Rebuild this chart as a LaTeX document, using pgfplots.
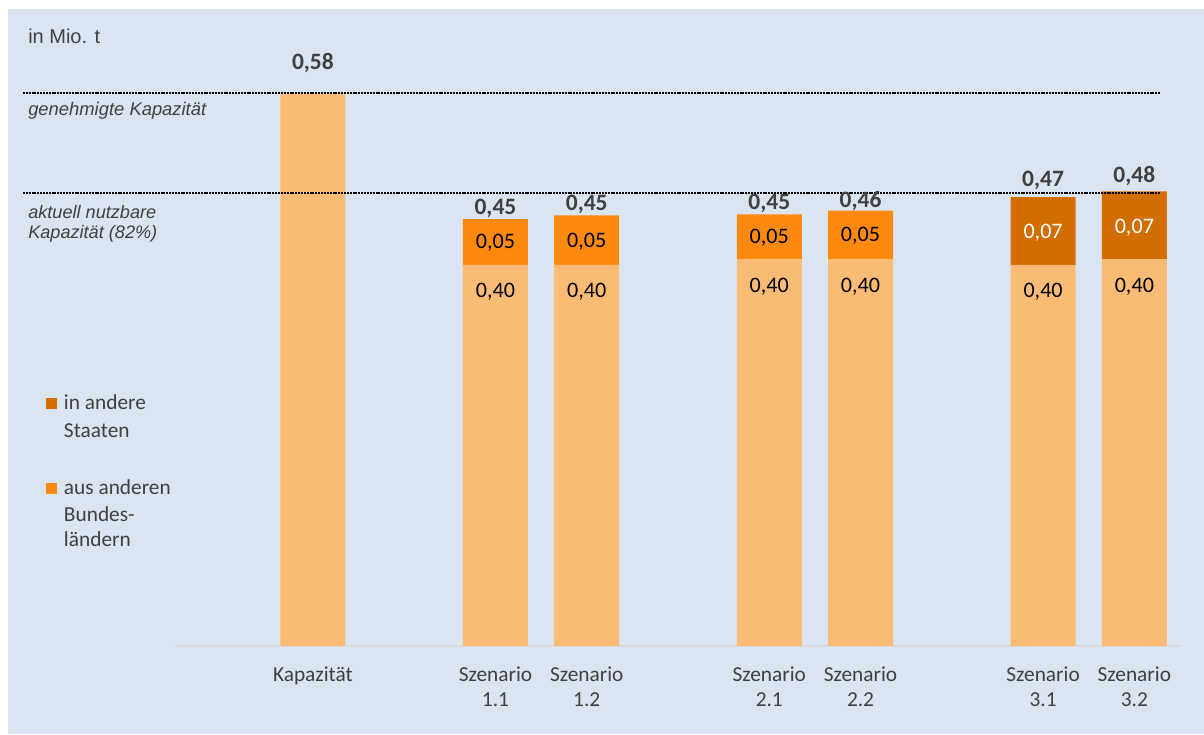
\documentclass[border=0pt]{standalone}
\usepackage{fontspec}
\setmainfont{Carlito}
\newfontfamily\arial{Liberation Sans}
\usepackage{pgfplots}
\pgfplotsset{compat=1.18}
\definecolor{bg}{HTML}{DBE5F1}
\definecolor{lightor}{HTML}{FABC75}
\definecolor{midor}{HTML}{FD8A0E}
\definecolor{darkor}{HTML}{D26E00}
\definecolor{txt}{HTML}{404040}
\begin{document}
\begin{tikzpicture}
\fill[white] (-132pt,-66.75pt) rectangle (771pt,484.5pt);
\fill[bg] (-126pt,-66pt) rectangle (771pt,477.75pt);
\begin{axis}[
  at={(0pt,0pt)}, anchor=south west,
  scale only axis, width=753pt, height=464.5pt,
  xmin=-1.5, xmax=9.5, ymin=0, ymax=0.65,
  ybar stacked, bar width=48.75pt,
  axis y line=none, axis x line*=bottom,
  x axis line style={-, draw=black!15, line width=1.1pt},
  ytick=\empty,
  xtick={0,2,3,5,6,8,9},
  xticklabels={{Kapazität},{Szenario\\1.1},{Szenario\\1.2},{Szenario\\2.1},{Szenario\\2.2},{Szenario\\3.1},{Szenario\\3.2}},
  xticklabel style={align=center, font=\fontsize{16}{19.2}\selectfont, text=txt, inner sep=0pt, anchor=north, yshift=-15.3pt},
  major tick length=0pt, xtick style={draw=none},
  clip=false,
]
% base segment
\addplot[fill=lightor, draw=none] coordinates {(0,0.58) (2,0.400) (3,0.400) (5,0.406) (6,0.406) (8,0.400) (9,0.406)};
% aus anderen Bundeslaendern
\addplot[fill=midor, draw=none] coordinates {(0,0) (2,0.048) (3,0.052) (5,0.047) (6,0.051) (8,0) (9,0)};
% in andere Staaten
\addplot[fill=darkor, draw=none] coordinates {(0,0) (2,0) (3,0) (5,0) (6,0) (8,0.071) (9,0.071)};

% reference lines
\coordinate (g1) at (axis cs:-3.177,0.58);
\coordinate (g2) at (axis cs:9.29,0.58);
\coordinate (n1) at (axis cs:-3.177,0.4756);
\coordinate (n2) at (axis cs:9.29,0.4756);
% inner label positions
\coordinate (b2) at (axis cs:2,0.3654);
\coordinate (b3) at (axis cs:3,0.3654);
\coordinate (b5) at (axis cs:5,0.3714);
\coordinate (b6) at (axis cs:6,0.3714);
\coordinate (b8) at (axis cs:8,0.3654);
\coordinate (b9) at (axis cs:9,0.3714);
\coordinate (m2) at (axis cs:2,0.4167);
\coordinate (m3) at (axis cs:3,0.4187);
\coordinate (m5) at (axis cs:5,0.4222);
\coordinate (m6) at (axis cs:6,0.4242);
\coordinate (d8) at (axis cs:8,0.4273);
\coordinate (d9) at (axis cs:9,0.4333);
% totals
\coordinate (t0) at (axis cs:0,0.6050);
\coordinate (t2) at (axis cs:2,0.4530);
\coordinate (t3) at (axis cs:3,0.4568);
\coordinate (t5) at (axis cs:5,0.4586);
\coordinate (t6) at (axis cs:6,0.4597);
\coordinate (t8) at (axis cs:8,0.4827);
\coordinate (t9) at (axis cs:9,0.4866);
\end{axis}
\draw[black, line width=1.5pt, dash pattern=on 1.5pt off 0.65pt] (g1) -- (g2);
\draw[black, line width=1.5pt, dash pattern=on 1.5pt off 0.65pt] (n1) -- (n2);
\begin{scope}[every node/.style={font=\fontsize{16.6}{19.2}\selectfont, text=black, anchor=base, inner sep=0pt}]
\node at (b2) {0,40};
\node at (b3) {0,40};
\node at (b5) {0,40};
\node at (b6) {0,40};
\node at (b8) {0,40};
\node at (b9) {0,40};
\node at (m2) {0,05};
\node at (m3) {0,05};
\node at (m5) {0,05};
\node at (m6) {0,05};
\node[text=white] at (d8) {0,07};
\node[text=white] at (d9) {0,07};
\end{scope}
\begin{scope}[every node/.style={font=\fontsize{17.6}{20}\selectfont\bfseries, text=txt, anchor=base, inner sep=0pt}]
\node at (t0) {0,58};
\node at (t2) {0,45};
\node at (t3) {0,45};
\node at (t5) {0,45};
\node at (t6) {0,46};
\node at (t8) {0,47};
\node at (t9) {0,48};
\end{scope}
% annotations
\node[anchor=base west, inner sep=0pt, font=\arial\fontsize{15}{18}\selectfont, text=txt] at (-111pt,452pt) {in Mio. t};
\node[anchor=base west, inner sep=0pt, font=\arial\itshape\fontsize{13.8}{16}\selectfont, text=txt] at (-111pt,397.5pt) {genehmigte Kapazität};
\node[anchor=base west, inner sep=0pt, font=\arial\itshape\fontsize{13.6}{16}\selectfont, text=txt] at (-111pt,320.8pt) {aktuell nutzbare};
\node[anchor=base west, inner sep=0pt, font=\arial\itshape\fontsize{13.6}{16}\selectfont, text=txt] at (-111pt,305.5pt) {Kapazität (82\%)};
% legend
\fill[darkor] (-97.5pt,177.5pt) rectangle (-89pt,185.8pt);
\fill[midor] (-97.5pt,113.8pt) rectangle (-89pt,122.0pt);
\begin{scope}[every node/.style={anchor=base west, inner sep=0pt, font=\fontsize{16}{19.9}\selectfont, text=txt}]
\node at (-84.2pt,177.0pt) {in andere};
\node at (-84.2pt,156.5pt) {Staaten};
\node at (-84.2pt,113.25pt) {aus anderen};
\node at (-84.2pt,93.2pt) {Bundes-};
\node at (-84.2pt,74.5pt) {ländern};
\end{scope}
\end{tikzpicture}
\end{document}
